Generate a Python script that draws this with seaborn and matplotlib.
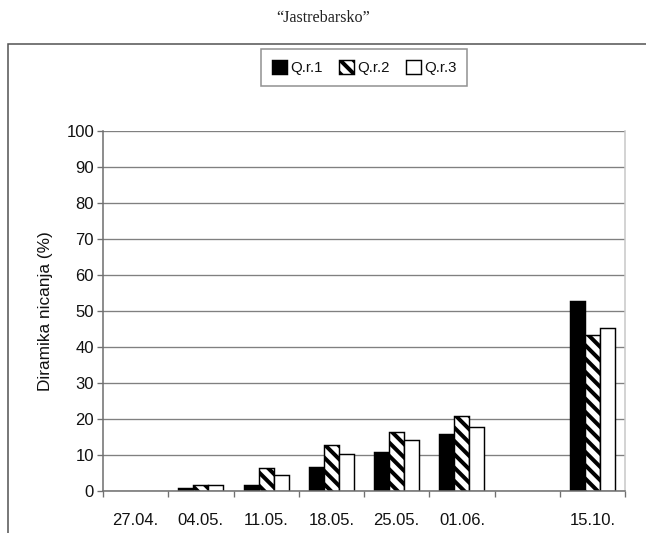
import matplotlib
matplotlib.use("Agg")
import matplotlib.pyplot as plt
import seaborn as sns
import pandas as pd
import numpy as np
from matplotlib.patches import Rectangle
from matplotlib.ticker import FixedLocator

# ---- data ----
dates = ["27.04.", "04.05.", "11.05.", "18.05.", "25.05.", "01.06.", " ", "15.10."]
qr1 = [0, 0.9, 1.7, 6.6, 10.9, 15.8, np.nan, 52.9]
qr2 = [0, 1.7, 6.5, 12.9, 16.3, 20.7, np.nan, 43.2]
qr3 = [0, 1.7, 4.4, 10.2, 14.2, 17.9, np.nan, 45.4]
series = ["Q.r.1", "Q.r.2", "Q.r.3"]
y_ticks = list(range(0, 101, 10))
title = "\u201cJastrebarsko\u201d"
ylabel = "Diramika nicanja (%)"

df = pd.DataFrame({
    "date": dates * 3,
    "value": qr1 + qr2 + qr3,
    "series": [s for s in series for _ in dates],
})

sns.set_theme(style="white")
plt.rcParams["font.family"] = ["Liberation Sans", "DejaVu Sans"]
plt.rcParams["hatch.linewidth"] = 3.6
plt.rcParams["hatch.color"] = "black"

DPI = 80
fig = plt.figure(figsize=(646 / DPI, 533 / DPI), dpi=DPI)
ax = fig.add_axes([103 / 646, 1 - 491 / 533, (625 - 103) / 646, (491 - 131) / 533])

colors = ["black", "white", "white"]
hatches = ["", "\\\\", ""]

sns.barplot(data=df, x="date", y="value", hue="series", order=dates,
            hue_order=series, palette=colors,
            edgecolor="black", linewidth=1.3, width=0.69, ax=ax,
            legend=False, errorbar=None, saturation=1)

for i, cont in enumerate(ax.containers):
    for p in cont.patches:
        p.set_hatch(hatches[i])
        if not np.isfinite(p.get_height()) or p.get_height() == 0:
            p.set_edgecolor("none")

ax.set_ylim(0, 100)
ax.set_xlim(-0.5, len(dates) - 0.5)
ax.yaxis.set_major_locator(FixedLocator(y_ticks))
ax.set_xlabel("")
ax.set_ylabel(ylabel, fontsize=15.5, color="#111111", labelpad=12)

ax.grid(axis="y", color="#808080", linewidth=1.2)
ax.set_axisbelow(True)

ax.spines["top"].set_visible(False)
ax.spines["left"].set_color("#707070")
ax.spines["left"].set_linewidth(1.4)
ax.spines["bottom"].set_color("#707070")
ax.spines["bottom"].set_linewidth(1.4)
ax.spines["right"].set_color("#c8c8c8")
ax.spines["right"].set_linewidth(1.4)

ax.tick_params(axis="y", which="major", length=5, width=1.2, color="#707070",
               labelsize=15, labelcolor="#111111", pad=3, left=True, direction="out")
ax.tick_params(axis="x", which="major", length=0, labelsize=15,
               labelcolor="#111111", pad=20)
ax.xaxis.set_minor_locator(FixedLocator(np.arange(-0.5, len(dates), 1.0)))
ax.tick_params(axis="x", which="minor", length=5, width=1.2, color="#707070",
               direction="out", bottom=True)

handles = [Rectangle((0, 0), 1, 1, facecolor=c, edgecolor="black", linewidth=1.3, hatch=h)
           for c, h in zip(colors, hatches)]
leg = ax.legend(handles, series, loc="upper center", bbox_to_anchor=(0.5, 1.228),
                ncol=3, frameon=True, fancybox=False, fontsize=13.5,
                handlelength=1.0, handleheight=1.0, handletextpad=0.2,
                columnspacing=1.1, borderpad=0.75, borderaxespad=0)
leg.get_frame().set_edgecolor("#777777")
leg.get_frame().set_linewidth(1.4)
for t in leg.get_texts():
    t.set_color("#111111")

fig.text(323 / 646, 1 - 18 / 533, title, ha="center", va="center",
         fontsize=14.5, family=["Liberation Serif", "DejaVu Serif"], color="#222222")

frame = Rectangle((8 / 646, -0.2), 1.0, 1.2 - 44 / 533, transform=fig.transFigure,
                  fill=False, edgecolor="#555555", linewidth=1.4, clip_on=False)
fig.add_artist(frame)

fig.savefig("out.png", dpi=DPI)
